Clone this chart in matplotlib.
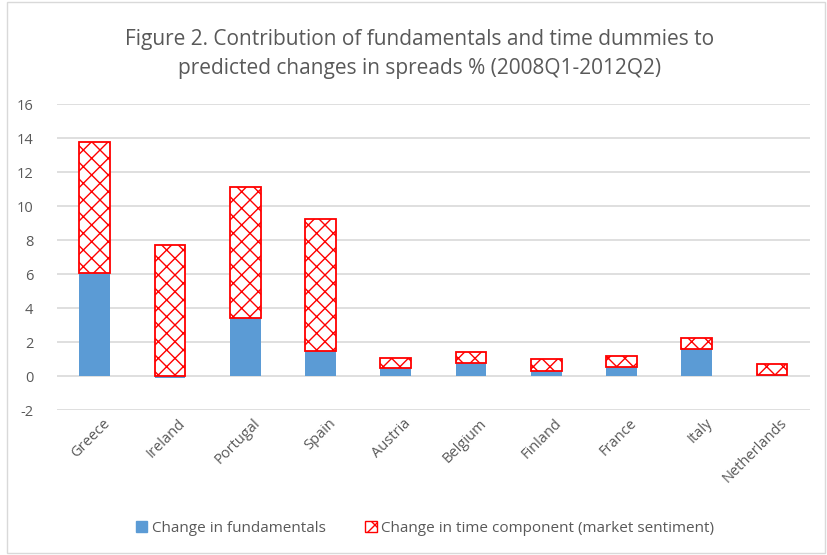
import matplotlib
matplotlib.use("Agg")
import matplotlib.pyplot as plt
import matplotlib.transforms as mtrans
from matplotlib.patches import Patch, Rectangle

plt.rcParams['font.family'] = ['Open Sans', 'DejaVu Sans']
plt.rcParams['hatch.linewidth'] = 1.0

countries = ["Greece", "Ireland", "Portugal", "Spain", "Austria", "Belgium",
             "Finland", "France", "Italy", "Netherlands"]
fundamentals = [6.05, -0.1, 3.41, 1.49, 0.45, 0.78, 0.29, 0.55, 1.57, 0.05]
time_component = [7.75, 7.7, 7.73, 7.73, 0.63, 0.65, 0.69, 0.63, 0.65, 0.67]
yticks = [-2, 0, 2, 4, 6, 8, 10, 12, 14, 16]

title = "Figure 2. Contribution of fundamentals and time dummies to\npredicted changes in spreads % (2008Q1-2012Q2)"
label_f = "Change in fundamentals"
label_t = "Change in time component (market sentiment)"

txt = "#595959"
blue = "#5b9bd5"
red = "#ff0000"

fig = plt.figure(figsize=(8.27, 5.55), dpi=100)
ax = fig.add_axes([0.069, 0.261, 0.910, 0.5514])

x = list(range(len(countries)))
w = 0.41
ax.bar(x, fundamentals, width=w, color=blue, zorder=3)
bottoms = [f if f > 0 else 0 for f in fundamentals]
ax.bar(x, time_component, width=w, bottom=bottoms, facecolor="white",
       edgecolor=red, hatch="xx", linewidth=1.3, zorder=3)

ax.set_xlim(-0.5, len(countries) - 0.5)
ax.set_ylim(-2, 16)
ax.set_yticks(yticks)
ax.set_yticklabels([str(v) for v in yticks], color=txt, fontsize=10.5)
ax.set_xticks(x)
ax.set_xticklabels(countries, rotation=45, ha="right", rotation_mode="anchor",
                   color=txt, fontsize=10.5)
ax.tick_params(length=0, pad=17, axis="y")
ax.tick_params(length=0, pad=4, axis="x")
offset = mtrans.ScaledTranslation(8 / 100, 0, fig.dpi_scale_trans)
for lbl in ax.get_xticklabels():
    lbl.set_transform(lbl.get_transform() + offset)
for s in ax.spines.values():
    s.set_visible(False)
ax.grid(axis="y", color="#d9d9d9", linewidth=1.2, zorder=0)
ax.set_axisbelow(True)

fig.text(0.507, 0.902, title, ha="center", va="center", fontsize=15,
         color=txt, linespacing=1.5)

handles = [Patch(facecolor=blue, edgecolor=blue, label=label_f),
           Patch(facecolor="white", edgecolor=red, hatch="xx", label=label_t)]
fig.legend(handles=handles, loc="center", bbox_to_anchor=(0.514, 0.048),
           ncol=2, frameon=False, fontsize=11, labelcolor=txt,
           handlelength=0.75, handleheight=0.75, handletextpad=0.3,
           columnspacing=2.6)

fig.patches.append(Rectangle((0.008, 0.003), 0.99, 0.994, transform=fig.transFigure,
                             fill=False, edgecolor="#d9d9d9", linewidth=1))

fig.savefig("out.png", dpi=100)
